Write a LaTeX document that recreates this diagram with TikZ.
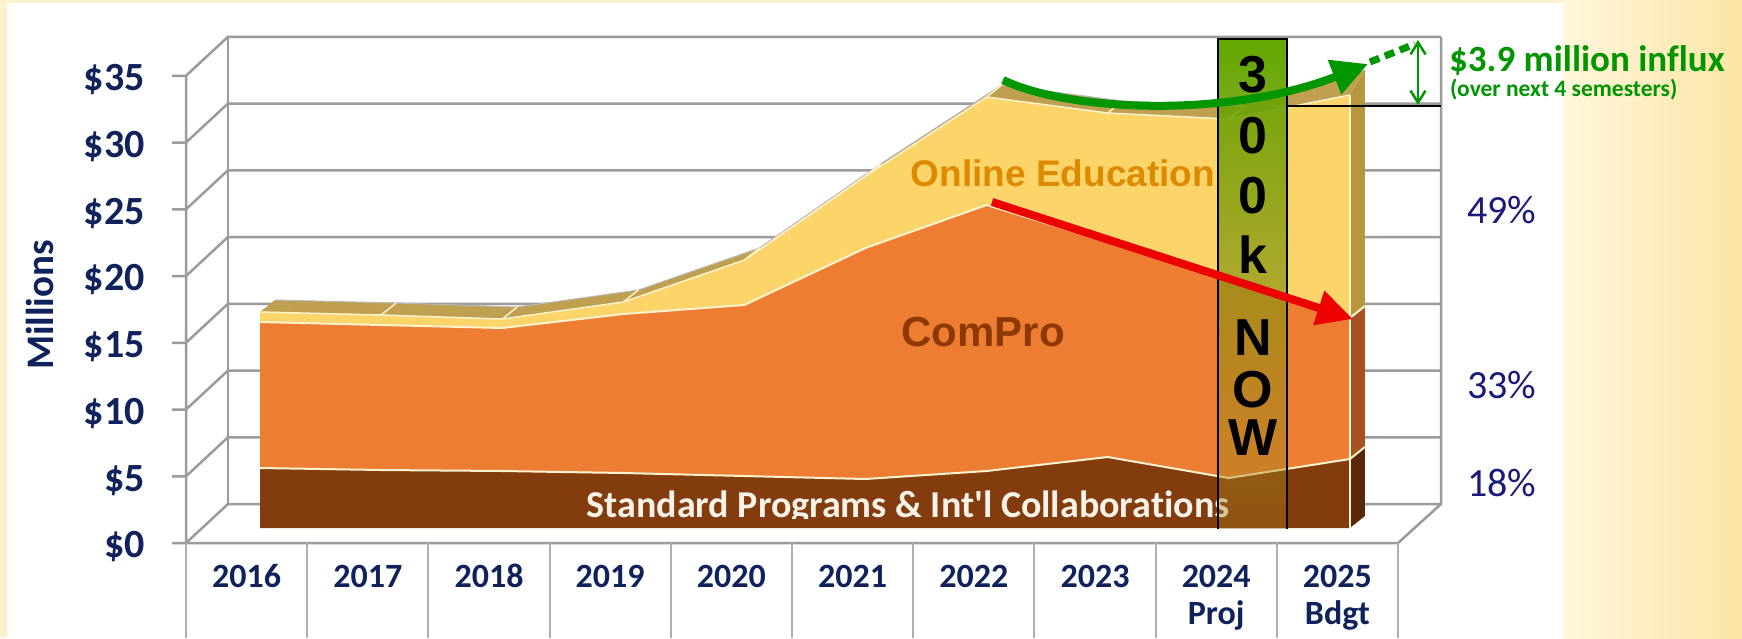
\documentclass[tikz,border=0pt]{standalone}
\usepackage{fontspec}
\setmainfont{Carlito}[Ligatures={NoCommon}]
\newfontfamily\arialf{Liberation Sans}
\usetikzlibrary{arrows.meta,fadings}
\definecolor{bgY}{RGB}{253,241,205}
\definecolor{bgL}{RGB}{255,246,220}
\definecolor{bgR}{RGB}{252,229,165}
\definecolor{gridC}{RGB}{155,155,155}
\definecolor{navyA}{RGB}{16,34,92}
\definecolor{navyP}{RGB}{26,26,122}
\definecolor{brownS}{RGB}{131,60,14}
\definecolor{brownSide}{RGB}{90,40,8}
\definecolor{orangeS}{RGB}{236,125,50}
\definecolor{orangeSide}{RGB}{165,82,32}
\definecolor{yellowS}{RGB}{252,213,106}
\definecolor{yellowSide}{RGB}{184,150,64}
\definecolor{capC}{RGB}{190,160,80}
\definecolor{sepC}{RGB}{255,242,205}
\definecolor{onlineC}{RGB}{222,138,0}
\definecolor{comproC}{RGB}{140,56,0}
\definecolor{stdC}{RGB}{248,242,232}
\definecolor{gA}{RGB}{0,150,0}
\definecolor{rA}{RGB}{236,0,0}
\definecolor{boxTop}{RGB}{98,168,0}
\definecolor{boxBot}{RGB}{172,128,30}
\tikzfading[name=boxfade, top color=transparent!0, bottom color=transparent!65]
\begin{document}
\begin{tikzpicture}[x=1pt,y=-1pt,
  gridS/.style={draw=gridC, line width=2.5pt},
  sepgrid/.style={draw=gridC!80, line width=2pt},
  sepL/.style={draw=sepC, line width=2pt},
  ytick/.style={anchor=east, inner sep=0pt, text=navyA, font=\bfseries\fontsize{40}{40}\selectfont},
  ylab/.style={anchor=base, inner sep=0pt, text=navyA, font=\bfseries\fontsize{34}{34}\selectfont},
  pct/.style={anchor=west, inner sep=0pt, text=navyP, font=\fontsize{40}{40}\selectfont},
  boxL/.style={anchor=base, inner sep=0pt, font=\arialf\bfseries\fontsize{52}{52}\selectfont},
]
\useasboundingbox (0,0) rectangle (1742,638);
% background
\fill[bgY] (0,0) rectangle (1742,638);
\shade[left color=bgL, right color=bgR] (1563,0) rectangle (1742,638);
\fill[white] (7,3) rectangle (1563,638);

% chart walls and grid
\foreach \k/\lab in {0/0,1/5,2/10,3/15,4/20,5/25,6/30,7/35} {
  \pgfmathsetmacro\yy{543-66.75*\k}
  \draw[gridS] (172,\yy) -- (186,\yy) -- (228,\yy-39) -- (1441,\yy-39);
  \node[ytick] (yt\k) at (145,\yy+4) {\$\lab};
}
\draw[gridS] (228,36.75) -- (228,504);
\draw[gridS] (186,76.75) -- (186,543) -- (1398,543) -- (1441,504) -- (1441,36.75);
\foreach \i in {0,...,10} \draw[sepgrid] (186+121.2*\i,543) -- ++(0,95);

% axis labels
\foreach \i/\yr in {0/2016,1/2017,2/2018,3/2019,4/2020,5/2021,6/2022,7/2023,8/2024,9/2025}
  \node[ylab] (yr\i) at (246.6+121.2*\i,587) {\yr};
\node[ylab] (proj) at (1216.2,624) {Proj};
\node[ylab] (bdgt) at (1337.4,624) {Bdgt};
\node[rotate=90, inner sep=0pt, text=navyA, font=\bfseries\fontsize{39}{39}\selectfont] (mil) at (40,305) {Millions};

% data: front faces
\fill[brownS] (260,528) -- (260,468) -- (381.1,470) -- (502.2,471) -- (623.3,473) -- (744.4,476) -- (865.5,479) -- (986.6,471) -- (1107.7,457) -- (1228.8,478) -- (1349.9,459) -- (1349.9,528) -- cycle;
\fill[orangeS] (260,468) -- (381.1,470) -- (502.2,471) -- (623.3,473) -- (744.4,476) -- (865.5,479) -- (986.6,471) -- (1107.7,457) -- (1228.8,478) -- (1349.9,459) -- (1349.9,318) -- (1228.8,280) -- (1107.7,242) -- (986.6,205) -- (865.5,248) -- (744.4,305) -- (623.3,314) -- (502.2,328) -- (381.1,325) -- (260,322) -- cycle;
\fill[yellowS] (260,322) -- (381.1,325) -- (502.2,328) -- (623.3,314) -- (744.4,305) -- (865.5,248) -- (986.6,205) -- (1107.7,242) -- (1228.8,280) -- (1349.9,318) -- (1349.9,95) -- (1228.8,119) -- (1107.7,113) -- (986.6,97) -- (865.5,176) -- (744.4,260) -- (623.3,302) -- (502.2,319) -- (381.1,315) -- (260,312) -- cycle;
% top cap
\fill[capC] (260,312) -- (381.1,315) -- (502.2,319) -- (623.3,302) -- (744.4,260) -- (865.5,176) -- (986.6,97) -- (1107.7,113) -- (1228.8,119) -- (1349.9,95) -- (1364.9,70) -- (1243.8,107) -- (1122.7,101) -- (1001.6,85) -- (880.5,164) -- (759.4,248) -- (638.3,290) -- (517.2,307) -- (396.1,303) -- (275,300) -- cycle;
\draw[gray!55, line width=1pt] (275,300) -- (396.1,303) -- (517.2,307) -- (638.3,290) -- (759.4,248) -- (880.5,164) -- (1001.6,85) -- (1122.7,101) -- (1243.8,107) -- (1364.9,70);
% right side faces
\fill[brownSide] (1349.9,528) -- (1364.9,516) -- (1364.9,447) -- (1349.9,459) -- cycle;
\fill[orangeSide] (1349.9,459) -- (1364.9,447) -- (1364.9,306) -- (1349.9,318) -- cycle;
\fill[yellowSide] (1349.9,318) -- (1364.9,306) -- (1364.9,70) -- (1349.9,95) -- cycle;
% separators
\draw[sepL] (260,468) -- (381.1,470) -- (502.2,471) -- (623.3,473) -- (744.4,476) -- (865.5,479) -- (986.6,471) -- (1107.7,457) -- (1228.8,478) -- (1349.9,459) -- (1364.9,447);
\draw[sepL] (260,322) -- (381.1,325) -- (502.2,328) -- (623.3,314) -- (744.4,305) -- (865.5,248) -- (986.6,205) -- (1107.7,242) -- (1228.8,280) -- (1349.9,318) -- (1364.9,306);
\draw[sepC, line width=1.5pt] (260,312) -- (381.1,315) -- (502.2,319) -- (623.3,302) -- (744.4,260) -- (865.5,176) -- (986.6,97) -- (1107.7,113) -- (1228.8,119) -- (1349.9,95);
\foreach \x/\y in {381.1/315,502.2/319,623.3/302,744.4/260,865.5/176,986.6/97,1107.7/113,1228.8/119}
  \draw[sepC, line width=1.5pt] (\x,\y) -- ++(15,-12);
\draw[sepC, line width=1.5pt] (1349.9,528) -- (1349.9,95);

% series labels
\node[anchor=base, inner sep=0pt, text=comproC, font=\arialf\bfseries\fontsize{42}{42}\selectfont] (compro) at (983,346) {ComPro};
\node[anchor=base, inner sep=0pt, text=onlineC, font=\arialf\bfseries\fontsize{37}{37}\selectfont] (online) at (1063,186) {Online Education};
\begin{scope}
  \clip (260,440) rectangle (1349.9,518);
  \node[anchor=base, inner sep=0pt, text=stdC, font=\bfseries\fontsize{38}{38}\selectfont] (std) at (908,517) {Standard Programs \& Int\textquotesingle l Collaborations};
\end{scope}

% 300k NOW box
\shade[top color=boxTop, bottom color=boxBot, path fading=boxfade] (1218,39) rectangle (1287,528);
\draw[black, line width=2pt, line cap=rect] (1218,528) -- (1218,39) -- (1287,39) -- (1287,528);
\node[boxL] (c1) at (1253,92) {3};
\node[boxL] (c2) at (1253,153) {0};
\node[boxL] (c3) at (1253,213) {0};
\node[boxL] (c4) at (1253,273) {k};
\node[boxL] (c5) at (1253,355) {N};
\node[boxL] (c6) at (1253,407) {O};
\node[boxL] (c7) at (1253,455) {W};

% baseline marker
\coordinate (bl1) at (1287,106);
\coordinate (bl2) at (1441,106);
\draw[black, line width=2pt] (bl1) -- (bl2);

% arrows
\coordinate (rS) at (992,202);
\coordinate (rE) at (1353,319);
\draw[rA, line width=8pt, -{Triangle[length=36pt,width=34pt]}] (rS) -- (rE);
\coordinate (gS) at (1003,80);
\coordinate (gE) at (1368,64);
\draw[gA, line width=8pt, -{Triangle[length=36pt,width=35pt]}] (gS) .. controls (1070,112) and (1230,118) .. (gE);
\coordinate (dS) at (1370,62);
\coordinate (dE) at (1415,44);
\draw[gA, line width=7pt, dash pattern=on 10pt off 6pt] (dS) -- (dE);
\coordinate (dA) at (1418,40);
\coordinate (dB) at (1418,105);
\draw[gA, line width=2.5pt, {Straight Barb[length=12pt,width=15pt]}-{Straight Barb[length=12pt,width=15pt]}] (dA) -- (dB);

% annotation
\node[anchor=base west, inner sep=0pt, text=gA, font=\bfseries\fontsize{37}{37}\selectfont] (infl) at (1449,71) {\$3.9 million influx};
\node[anchor=base west, inner sep=0pt, text=gA, font=\bfseries\fontsize{23.5}{23.5}\selectfont] (over) at (1450,96) {(over next 4 semesters)};

% percentages
\node[pct] (p49) at (1467,210) {49\%};
\node[pct] (p33) at (1467,385) {33\%};
\node[pct] (p18) at (1467,483) {18\%};
\end{tikzpicture}
\end{document}
